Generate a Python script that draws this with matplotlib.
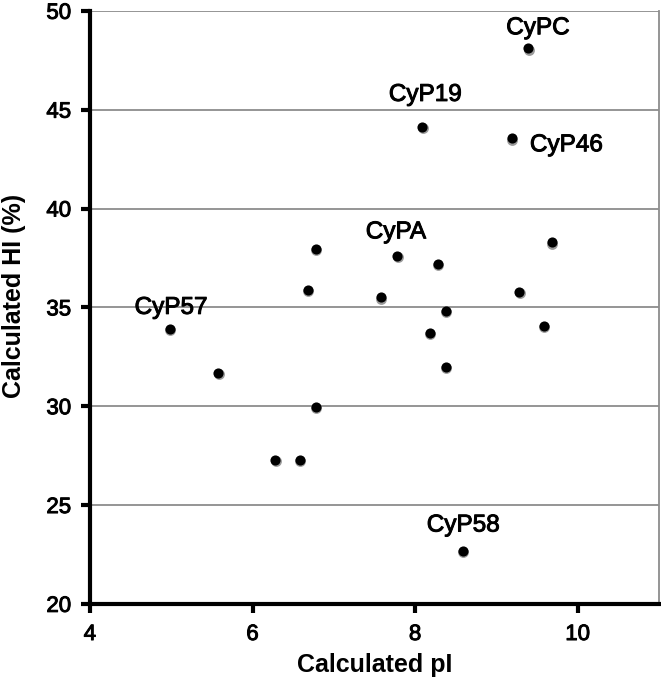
import matplotlib
matplotlib.use("Agg")
import matplotlib.pyplot as plt
import matplotlib.transforms as mtransforms
import matplotlib.patheffects as pe

plt.rcParams['font.family'] = ['Liberation Sans', 'DejaVu Sans']

# calculated pI / HI for each cyclophilin
pI = [9.39, 8.09, 9.19, 4.98, 7.78, 8.59, 5.58, 6.78, 6.68, 7.58,
      6.78, 6.28, 6.58, 8.28, 8.38, 8.18, 8.38, 9.68, 9.28, 9.58]
HI = [48.1, 44.13, 43.55, 33.92, 37.6, 22.7, 31.69, 37.96, 35.89, 35.5,
      29.98, 27.29, 27.29, 37.2, 34.83, 33.7, 32.0, 38.3, 35.8, 34.08]

# labelled points: name, index, text offset (points), horizontal alignment
labels = [
    ('CyPC', 0, (7, 14.5), 'center'),
    ('CyP19', 1, (2, 23), 'center'),
    ('CyP46', 2, (13, -5), 'left'),
    ('CyP57', 3, (1, 15), 'center'),
    ('CyPA', 4, (-1, 17), 'center'),
    ('CyP58', 5, (0, 18), 'center'),
]

heavy = [pe.withStroke(linewidth=0.7, foreground='black')]

fig = plt.figure(figsize=(6.61, 6.77), dpi=100)
ax = fig.add_axes([0.136, 0.108, 0.861, 0.876])

ax.set_xlim(4, 11)
ax.set_ylim(20, 50)
ax.set_xticks([4, 6, 8, 10])
ax.set_yticks([20, 25, 30, 35, 40, 45, 50])

ax.grid(True, axis='y', color='#8c8c8c', lw=1.3)
ax.set_axisbelow(True)

# soft grey shadow under each dot
shadow = mtransforms.offset_copy(ax.transData, fig=fig, x=0.3, y=-1.0, units='points')
ax.plot(pI, HI, 'o', ms=7.8, color='#9a9a9a', mec='none', transform=shadow, zorder=3)
ax.plot(pI, HI, 'o', ms=7.3, color='black', mec='none', zorder=4)

for name, i, off, ha in labels:
    ax.annotate(name, (pI[i], HI[i]), xytext=off, textcoords='offset points',
                ha=ha, va='center', fontsize=17.5, color='black',
                path_effects=heavy)

for side in ['left', 'bottom']:
    ax.spines[side].set_linewidth(3)
    ax.spines[side].set_color('black')
ax.spines['right'].set_linewidth(1.3)
ax.spines['right'].set_color('#8c8c8c')
ax.spines['top'].set_visible(False)

ax.tick_params(axis='both', direction='out', length=6.5, width=3,
               labelsize=16, pad=7, color='black')
ax.tick_params(axis='x', pad=8)
for t in ax.get_xticklabels() + ax.get_yticklabels():
    t.set_path_effects(heavy)

ax.set_xlabel('Calculated pI', fontsize=18, fontweight='bold', labelpad=6)
ax.set_ylabel('Calculated HI (%)', fontsize=18, fontweight='bold', labelpad=10)
ax.yaxis.set_label_coords(-0.112, 0.52)

fig.savefig('out.png', dpi=100)
